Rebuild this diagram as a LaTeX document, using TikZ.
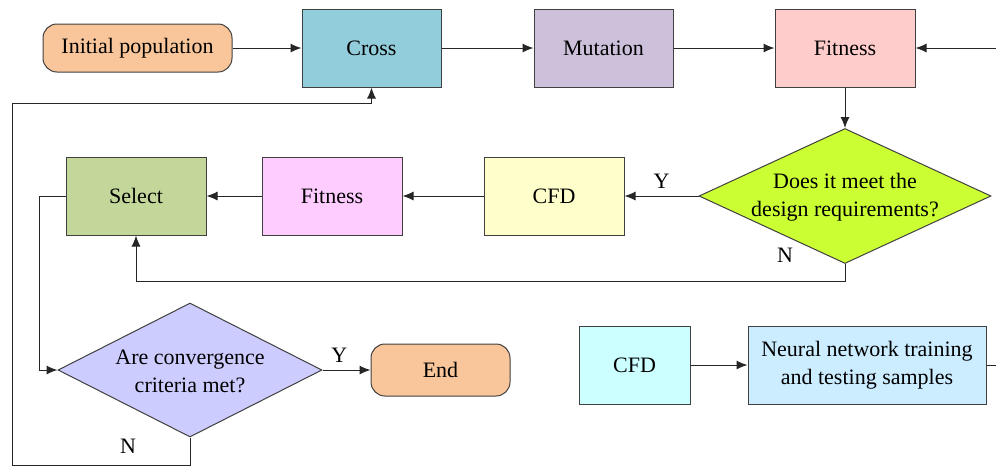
\documentclass[tikz,border=0pt]{standalone}
\usepackage{fontspec}
\setmainfont{Liberation Serif}
\usetikzlibrary{shapes.geometric,arrows.meta}
\definecolor{linec}{HTML}{262626}
\definecolor{borderc}{HTML}{404040}
\definecolor{peach}{HTML}{F8C69A}
\definecolor{crossc}{HTML}{92CDDC}
\definecolor{mutc}{HTML}{CCC0DA}
\definecolor{fitc}{HTML}{FFCCCC}
\definecolor{dia1}{HTML}{CCFF33}
\definecolor{cfdy}{HTML}{FFFFCC}
\definecolor{fitp}{HTML}{FFCCFF}
\definecolor{selc}{HTML}{C4D79B}
\definecolor{dia2}{HTML}{CCCCFF}
\definecolor{cfdc}{HTML}{CCFFFF}
\definecolor{nnc}{HTML}{CCECFF}
\tikzset{
  every node/.style={font=\fontsize{11}{14}\selectfont, align=center},
  boxnode/.style={draw=borderc, line width=0.5pt, rectangle, inner sep=1pt},
  roundnode/.style={draw=borderc, line width=0.5pt, rectangle, rounded corners=7pt, inner sep=1pt},
  decnode/.style={draw=borderc, line width=0.5pt, diamond, inner sep=0pt},
  conn/.style={draw=linec, line width=0.5pt, -{Latex[length=5.5pt,width=4.5pt]}},
  plainconn/.style={draw=linec, line width=0.5pt},
  lbl/.style={font=\fontsize{11}{13}\selectfont}
}
\begin{document}
\begin{tikzpicture}[x=0.5pt,y=-0.5pt]
\useasboundingbox (0,0) rectangle (996,468);
% top row
\node[roundnode, fill=peach, minimum width=94.5pt, minimum height=24pt] (init) at (137.5,48) {Initial population};
\node[boxnode, fill=crossc, minimum width=69.5pt, minimum height=39pt] (cross) at (371.5,48) {Cross};
\node[boxnode, fill=mutc, minimum width=69.5pt, minimum height=39pt] (mut) at (603.5,48) {Mutation};
\node[boxnode, fill=fitc, minimum width=70pt, minimum height=39pt] (fit1) at (845,48) {Fitness};
\coordinate (rin) at (996,48);
% decision 1
\node[decnode, fill=dia1, minimum width=146pt, minimum height=67.5pt] (d1) at (845,196) {};
\node (d1text) at (845,197) {Does it meet the\\design requirements?};
% second row
\node[boxnode, fill=cfdy, minimum width=70pt, minimum height=39pt] (cfd1) at (554,196) {CFD};
\node[boxnode, fill=fitp, minimum width=70pt, minimum height=39pt] (fit2) at (332,196) {Fitness};
\node[boxnode, fill=selc, minimum width=70pt, minimum height=39pt] (sel) at (136,196) {Select};
% decision 2
\node[decnode, fill=dia2, minimum width=132pt, minimum height=67pt] (d2) at (190,370) {};
\node (d2text) at (190,371) {Are convergence\\criteria met?};
\node[roundnode, fill=peach, minimum width=69.5pt, minimum height=26pt] (endn) at (440.5,370) {End};
% bottom right
\node[boxnode, fill=cfdc, minimum width=55.5pt, minimum height=39pt] (cfd2) at (634.5,365) {CFD};
\node[boxnode, fill=nnc, minimum width=119pt, minimum height=39pt] (nn) at (867,365) {Neural network training\\and testing samples};
\coordinate (rout) at (996,365);
% connectors
\draw[conn] (init) -- (cross);
\draw[conn] (cross) -- (mut);
\draw[conn] (mut) -- (fit1);
\draw[conn] (rin) -- (fit1.east);
\draw[conn] (fit1.south) -- (d1.north);
\draw[conn] (d1.west) -- node[lbl, above, pos=0.5] {Y} (cfd1.east);
\draw[conn] (cfd1) -- (fit2);
\draw[conn] (fit2) -- (sel);
\draw[conn] (d1.south) -- ++(0,17) -| (sel.south);
\node[lbl] (nlab1) at (785,255) {N};
\draw[conn] (sel.west) -- ++(-26,0) |- (d2.west);
\draw[conn] (d2.east) -- node[lbl, above, pos=0.35] {Y} (endn.west);
\draw[conn] (d2.south) -- ++(0,28) -- ++(-178,0) -- ++(0,-362) -| (cross.south);
\node[lbl] (nlab2) at (128,446) {N};
\draw[conn] (cfd2) -- (nn);
\draw[plainconn] (nn.east) -- (rout);
\end{tikzpicture}
\end{document}
